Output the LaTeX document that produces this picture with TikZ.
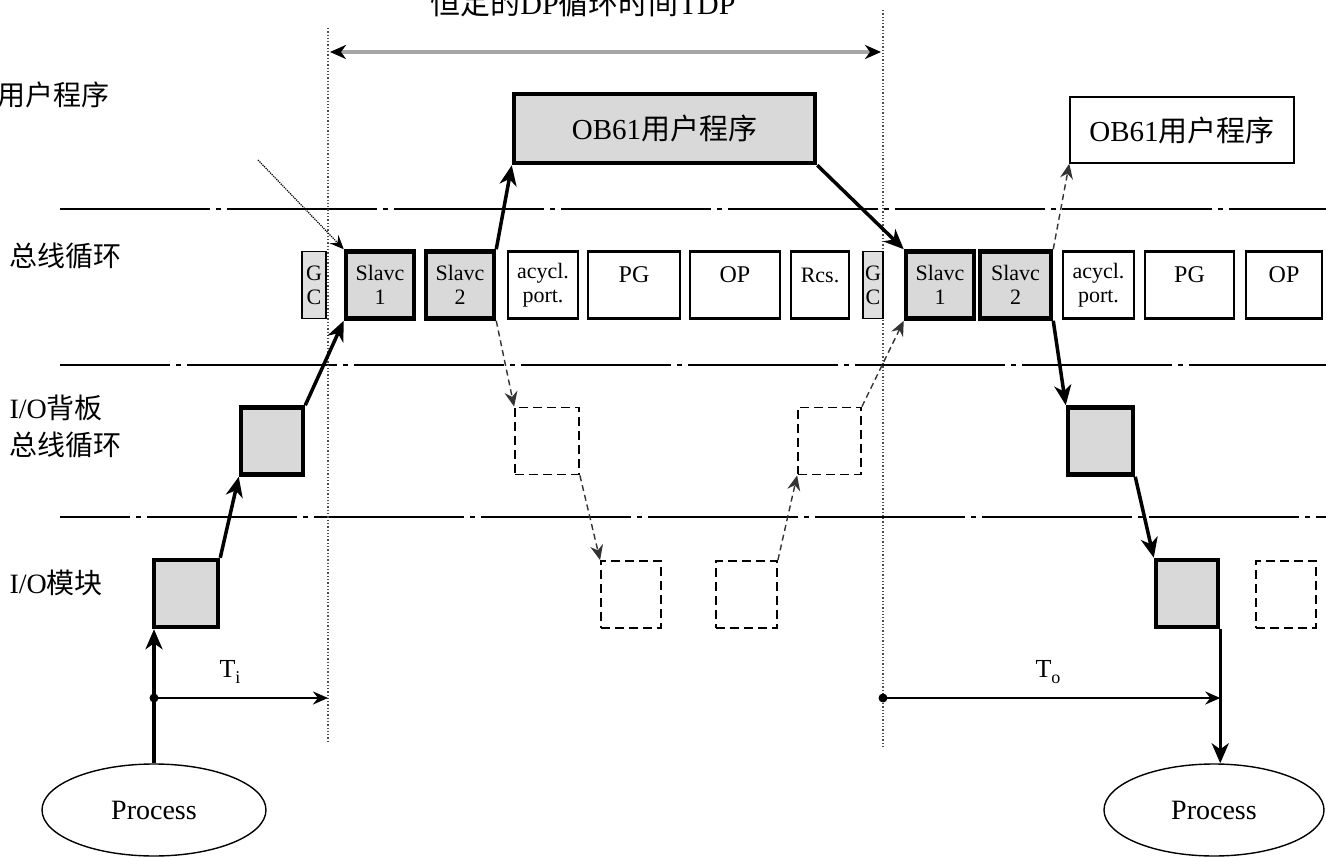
\documentclass[tikz,border=0pt]{standalone}
\usepackage{fontspec}
\setmainfont{Liberation Serif}
\newfontfamily\cjkfont{Noto Sans CJK SC}
\newcommand\zh[1]{{\cjkfont #1}}
\usetikzlibrary{arrows.meta,shapes.geometric}

\tikzset{
  slot/.style={draw,line width=2.6pt,inner sep=0pt,minimum height=67pt,align=center,
    font=\fontsize{22pt}{24pt}\selectfont},
  activeslot/.style={slot,fill=gray!30,line width=4.5pt},
  gcslot/.style={slot,fill=gray!25,line width=1.8pt},
  idleslot/.style={draw,dash pattern=on 9pt off 5pt,line width=1.8pt,inner sep=0pt,minimum height=67pt},
  upper/.style={text depth=20pt},
  flow/.style={line width=3.5pt,-{Stealth[length=20pt,width=17pt,inset=6pt]}},
  hint/.style={dash pattern=on 6pt off 4pt,line width=1.4pt,black!80,-{Stealth[length=15pt,width=13pt,inset=5pt]}},
  phase/.style={line width=2.2pt,dash pattern=on 150pt off 6pt on 5pt off 6pt},
  dpcycle/.style={dotted,line width=1.3pt,black!70},
  rowlabel/.style={anchor=west,align=left,font=\fontsize{28pt}{37pt}\selectfont},
  process/.style={ellipse,draw,line width=1.4pt,minimum width=224pt,minimum height=92pt,
    font=\fontsize{28pt}{30pt}\selectfont}
}

\begin{document}
\begin{tikzpicture}[x=1pt,y=-1pt]
  \useasboundingbox (0,0) rectangle (1326,858);
  \clip (0,0) rectangle (1326,858);

  % Title and row labels
  \node[font=\fontsize{30pt}{32pt}\selectfont] (title) at (583,3) {\zh{恒定的}DP\zh{循环时间}TDP};
  \node[rowlabel] (lblUser) at (-6,95) {\zh{用户程序}};
  \node[rowlabel] (lblBus) at (6,256) {\zh{总线循环}};
  \node[rowlabel] (lblBack) at (6,426) {I/O\zh{背板}\\\zh{总线循环}};
  \node[rowlabel] (lblIO) at (6,583) {I/O\zh{模块}};

  % Phase separators
  \draw[phase] (60,209) -- (1326,209);
  \draw[phase,dash phase=40pt] (60,365) -- (1326,365);
  \draw[phase,dash phase=80pt] (60,517) -- (1326,517);

  % Constant DP cycle
  \coordinate (cycA) at (328,28);
  \coordinate (cycB) at (883,10);
  \draw[dpcycle] (cycA) -- ++(0,714);
  \draw[dpcycle] (cycB) -- ++(0,738);
  \coordinate (tdpL) at (330,52);
  \coordinate (tdpR) at (881,52);
  \draw[gray!70,line width=3.5pt,{Stealth[length=16pt,width=14pt,inset=5pt,black]}-{Stealth[length=16pt,width=14pt,inset=5pt,black]}] (tdpL) -- (tdpR);

  % User programs
  \node[activeslot,minimum width=301pt,minimum height=69pt,font=\fontsize{29pt}{32pt}\selectfont] (obA) at (664.5,128.5) {OB61\zh{用户程序}};
  \node[slot,line width=1.5pt,minimum width=224pt,minimum height=66pt,font=\fontsize{29pt}{32pt}\selectfont] (obB) at (1182,130) {OB61\zh{用户程序}};

  % Bus cycle, first
  \node[gcslot,minimum width=24pt] (gcA) at (314,285) {G\\C};
  \node[activeslot,minimum width=68pt] (slvA1) at (380,285) {Slavc\\1};
  \node[activeslot,minimum width=68pt] (slvA2) at (460,285) {Slavc\\2};
  \node[slot,minimum width=70pt] (acycA) at (543,285) {acycl.\\port.};
  \node[slot,upper,minimum width=92pt,font=\fontsize{24pt}{24pt}\selectfont] (pgA) at (634,285) {PG};
  \node[slot,upper,minimum width=90pt,font=\fontsize{24pt}{24pt}\selectfont] (opA) at (735,285) {OP};
  \node[slot,upper,minimum width=58pt] (rcsA) at (820,285) {Rcs.};

  % Bus cycle, second
  \node[gcslot,minimum width=20pt] (gcB) at (873,285) {G\\C};
  \node[activeslot,minimum width=68pt] (slvB1) at (940,285) {Slavc\\1};
  \node[activeslot,minimum width=71pt] (slvB2) at (1015.5,285) {Slavc\\2};
  \node[slot,minimum width=71pt] (acycB) at (1098.5,285) {acycl.\\port.};
  \node[slot,upper,minimum width=89pt,font=\fontsize{24pt}{24pt}\selectfont] (pgB) at (1189.5,285) {PG};
  \node[slot,upper,minimum width=76pt,font=\fontsize{24pt}{24pt}\selectfont] (opB) at (1284,285) {OP};

  % Backplane bus
  \node[activeslot,minimum width=62pt] (bpA) at (272,441) {};
  \node[idleslot,minimum width=64pt] (bpIdleA) at (547,441) {};
  \node[idleslot,minimum width=63pt] (bpIdleB) at (829.5,441) {};
  \node[activeslot,minimum width=65pt] (bpB) at (1100.5,441) {};

  % I/O modules
  \node[activeslot,minimum width=64pt] (ioA) at (186,593.5) {};
  \node[idleslot,minimum width=60pt] (ioIdleA) at (631,594.5) {};
  \node[idleslot,minimum width=61pt] (ioIdleB) at (746.5,594.5) {};
  \node[activeslot,minimum width=62pt] (ioB) at (1187,593.5) {};
  \node[idleslot,minimum width=60pt] (ioIdleC) at (1286,594.5) {};

  % Process
  \node[process] (procA) at (154,810) {Process};
  \node[process,minimum width=220pt] (procB) at (1214,810) {Process};

  % Data path
  \draw[flow] (procA.north) -- (procA.north |- ioA.south);
  \draw[flow] (ioA.north east) -- (bpA.south west);
  \draw[flow] (bpA.north east) -- (slvA1.south west);
  \coordinate (cue) at (258,160);
  \draw[densely dotted,line width=1.2pt,-{Stealth[length=14pt,width=12pt,inset=5pt]}] (cue) -- (slvA1.north west);
  \draw[flow] (slvA2.north east) -- (obA.south west);
  \draw[flow] (obA.south east) -- (slvB1.north west);
  \draw[hint] (slvA2.south east) -- (bpIdleA.north west);
  \draw[hint] (bpIdleA.south east) -- (ioIdleA.north west);
  \draw[hint] (ioIdleB.north east) -- (bpIdleB.south west);
  \draw[hint] (bpIdleB.north east) -- (slvB1.south west);
  \draw[hint] (slvB2.north east) -- (obB.south west);
  \draw[flow] (slvB2.south east) -- (bpB.north west);
  \draw[flow] (bpB.south east) -- (ioB.north west);
  \draw[flow] (ioB.south east) -- (ioB.south east |- procB.north);

  % Ti and To
  \path (0,698) coordinate (tRow);
  \coordinate (tiStart) at (procA.north |- tRow);
  \coordinate (toStart) at (cycB |- tRow);
  \fill (tiStart) circle (4.5pt);
  \fill (toStart) circle (4.5pt);
  \draw[line width=2.8pt,-{Stealth[length=15pt,width=13pt,inset=5pt]}] (tiStart) -- (cycA |- tRow);
  \draw[line width=2.8pt,-{Stealth[length=15pt,width=13pt,inset=5pt]}] (toStart) -- (ioB.south east |- tRow);
  \node[font=\fontsize{26pt}{28pt}\selectfont] (tiLbl) at (230,672) {T\raisebox{-6pt}{\fontsize{18pt}{18pt}\selectfont i}};
  \node[font=\fontsize{26pt}{28pt}\selectfont] (toLbl) at (1048,672) {T\raisebox{-6pt}{\fontsize{18pt}{18pt}\selectfont o}};
\end{tikzpicture}
\end{document}
